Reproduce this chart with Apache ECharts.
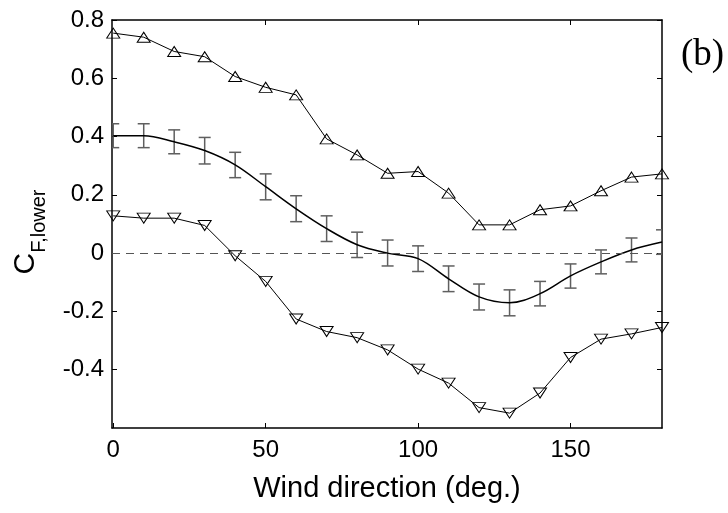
<!DOCTYPE html>
<html>
<head>
<meta charset="utf-8">
<script src="https://cdn.jsdelivr.net/npm/echarts@6/dist/echarts.min.js"></script>
<style>
html,body{margin:0;padding:0;background:#fff;}
#chart{width:728px;height:513px;}
</style>
</head>
<body>
<div id="chart"></div>
<script>
// Wind direction (deg.)
const windDirection = [0,10,20,30,40,50,60,70,80,90,100,110,120,130,140,150,160,170,180];
// Upper envelope (up-triangles)
const upperValues = [0.755,0.741,0.692,0.674,0.606,0.569,0.543,0.392,0.337,0.274,0.280,0.206,0.097,0.097,0.149,0.162,0.214,0.261,0.272];
// Lower envelope (down-triangles)
const lowerValues = [0.128,0.120,0.120,0.095,-0.009,-0.097,-0.226,-0.269,-0.290,-0.332,-0.398,-0.446,-0.530,-0.549,-0.480,-0.358,-0.295,-0.277,-0.255];
// Mean curve
const meanValues = [0.403,0.403,0.382,0.352,0.303,0.228,0.152,0.084,0.029,0.000,-0.019,-0.088,-0.150,-0.170,-0.139,-0.078,-0.030,0.011,0.038];
// Error bar ends
const errorLow = [0.362,0.362,0.341,0.306,0.259,0.183,0.108,0.040,-0.015,-0.044,-0.063,-0.132,-0.195,-0.215,-0.181,-0.120,-0.071,-0.030,-0.004];
const errorHigh = [0.444,0.444,0.423,0.397,0.346,0.272,0.197,0.128,0.072,0.045,0.025,-0.044,-0.106,-0.126,-0.097,-0.037,0.011,0.052,0.080];
// Tick labels
const xTicks = [0,50,100,150];
const xTopTicks = [50,100,150];
const yTicks = [-0.4,-0.2,0,0.2,0.4,0.6,0.8];

const FONT = '"Liberation Sans", Arial, Helvetica, sans-serif';
const chart = echarts.init(document.getElementById('chart'), null, {renderer:'canvas'});

const axisLineStyle = {color:'#000', width:1.5};

const option = {
  animation:false,
  backgroundColor:'#fff',
  grid:{left:112, right:66, top:20, bottom:85},
  graphic:[{
    type:'text', left:681, top:37,
    style:{text:'(b)', font:'37px "Liberation Serif", "Times New Roman", serif', fill:'#000'}
  }],
  xAxis:[{
    type:'value', min:-0.4, max:180, position:'bottom',
    axisLine:{show:true, onZero:false, lineStyle:axisLineStyle},
    axisTick:{show:true, inside:true, length:5, customValues:xTicks, lineStyle:{color:'#000', width:1}},
    axisLabel:{customValues:xTicks, fontSize:24, fontFamily:FONT, color:'#000', margin:10},
    splitLine:{show:false},
    name:'Wind direction (deg.)', nameLocation:'middle', nameGap:46,
    nameTextStyle:{fontSize:29, fontFamily:FONT, color:'#000'}
  },{
    type:'value', min:-0.4, max:180, position:'top',
    axisLine:{show:true, onZero:false, lineStyle:axisLineStyle},
    axisTick:{show:true, inside:true, length:5, customValues:xTopTicks, lineStyle:{color:'#000', width:1}},
    axisLabel:{show:false},
    splitLine:{show:false}
  }],
  yAxis:[{
    type:'value', min:-0.6, max:0.8, interval:0.2, position:'left',
    axisLine:{show:true, onZero:false, lineStyle:axisLineStyle},
    axisTick:{show:true, inside:true, length:5, customValues:yTicks, lineStyle:{color:'#000', width:1}},
    axisLabel:{customValues:yTicks, fontSize:24, fontFamily:FONT, color:'#000', margin:8},
    splitLine:{show:false},
    name:'{c|C}{s|F,lower}', nameLocation:'middle', nameGap:63,
    nameTextStyle:{
      rich:{
        c:{fontSize:30, fontFamily:FONT, color:'#000', verticalAlign:'middle'},
        s:{fontSize:20, fontFamily:FONT, color:'#000', verticalAlign:'middle', padding:[27,16,0,0]}
      }
    }
  },{
    type:'value', min:-0.6, max:0.8, interval:0.2, position:'right',
    axisLine:{show:true, onZero:false, lineStyle:axisLineStyle},
    axisTick:{show:true, inside:true, length:5, customValues:yTicks, lineStyle:{color:'#000', width:1}},
    axisLabel:{show:false},
    splitLine:{show:false}
  }],
  series:[
    {
      type:'custom', name:'error', xAxisIndex:0, yAxisIndex:0, silent:true, clip:true, z:2,
      data: windDirection.map((x,i)=>[x, errorLow[i], errorHigh[i]]),
      encode:{x:0, y:[1,2]},
      renderItem:function(params, api){
        const x = api.value(0);
        const lo = api.coord([x, api.value(1)]);
        const hi = api.coord([x, api.value(2)]);
        const hw = 6;
        const style = {stroke:'#5f5f5f', lineWidth:1.5, fill:null};
        return {type:'group', children:[
          {type:'line', shape:{x1:lo[0], y1:lo[1], x2:hi[0], y2:hi[1]}, style:style},
          {type:'line', shape:{x1:lo[0]-hw, y1:lo[1], x2:lo[0]+hw, y2:lo[1]}, style:style},
          {type:'line', shape:{x1:hi[0]-hw, y1:hi[1], x2:hi[0]+hw, y2:hi[1]}, style:style}
        ]};
      }
    },
    {
      type:'line', name:'mean', smooth:0.35, symbol:'none', silent:true, z:3,
      data: windDirection.map((x,i)=>[x, meanValues[i]]),
      lineStyle:{color:'#000', width:1.5},
      markLine:{
        silent:true, symbol:'none', animation:false,
        label:{show:false},
        lineStyle:{type:[8,6], color:'#555', width:1},
        data:[{yAxis:0}]
      }
    },
    {
      type:'line', name:'upper', symbol:'triangle', symbolSize:[13,10], clip:false, silent:true, z:4,
      data: windDirection.map((x,i)=>[x, upperValues[i]]),
      lineStyle:{color:'#000', width:1},
      itemStyle:{color:'transparent', borderColor:'#000', borderWidth:1}
    },
    {
      type:'line', name:'lower', symbol:'triangle', symbolRotate:180, symbolSize:[13,10], clip:false, silent:true, z:4,
      data: windDirection.map((x,i)=>[x, lowerValues[i]]),
      lineStyle:{color:'#000', width:1},
      itemStyle:{color:'transparent', borderColor:'#000', borderWidth:1}
    }
  ]
};
chart.setOption(option);
</script>
</body>
</html>
